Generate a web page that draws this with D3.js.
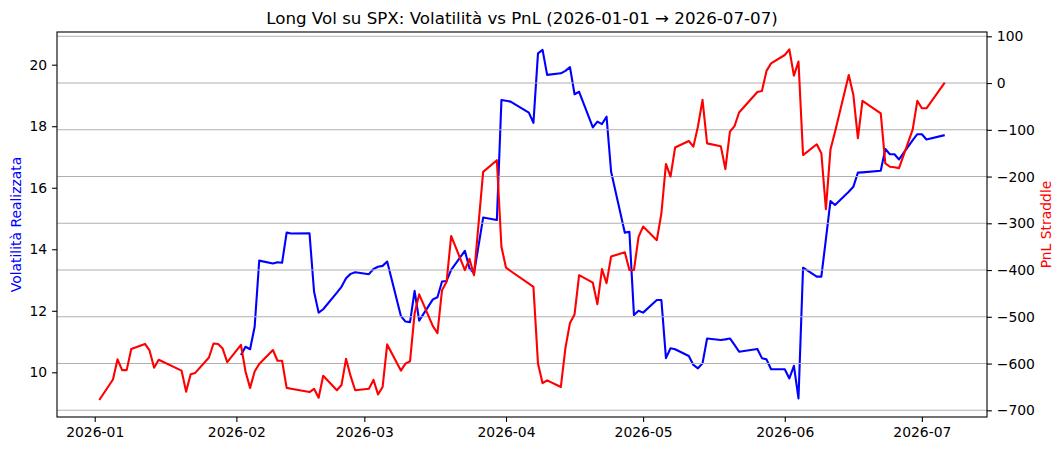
<!DOCTYPE html>
<html>
<head>
<meta charset="utf-8">
<script src="https://cdn.jsdelivr.net/npm/d3@7"></script>
<style>
  body { margin: 0; background: #fff; }
  svg text { font-family: "DejaVu Sans", sans-serif; }
</style>
</head>
<body>
<div id="chart"></div>
<script>
// trading days with a visible vertex in either line
const dates = [
  '2026-01-02', '2026-01-05', '2026-01-06', '2026-01-07', '2026-01-08', '2026-01-09',
  '2026-01-12', '2026-01-13', '2026-01-14', '2026-01-15', '2026-01-20', '2026-01-21',
  '2026-01-22', '2026-01-23', '2026-01-26', '2026-01-27', '2026-01-28', '2026-01-29',
  '2026-01-30', '2026-02-02', '2026-02-03', '2026-02-04', '2026-02-05', '2026-02-06',
  '2026-02-09', '2026-02-10', '2026-02-11', '2026-02-12', '2026-02-13', '2026-02-17',
  '2026-02-18', '2026-02-19', '2026-02-20', '2026-02-23', '2026-02-24', '2026-02-25',
  '2026-02-26', '2026-02-27', '2026-03-02', '2026-03-03', '2026-03-04', '2026-03-05',
  '2026-03-06', '2026-03-09', '2026-03-10', '2026-03-11', '2026-03-12', '2026-03-13',
  '2026-03-16', '2026-03-17', '2026-03-18', '2026-03-19', '2026-03-20', '2026-03-23',
  '2026-03-24', '2026-03-25', '2026-03-27', '2026-03-30', '2026-03-31', '2026-04-01',
  '2026-04-02', '2026-04-06', '2026-04-07', '2026-04-08', '2026-04-09', '2026-04-10',
  '2026-04-13', '2026-04-14', '2026-04-15', '2026-04-16', '2026-04-17', '2026-04-20',
  '2026-04-21', '2026-04-22', '2026-04-23', '2026-04-24', '2026-04-27', '2026-04-28',
  '2026-04-29', '2026-04-30', '2026-05-01', '2026-05-04', '2026-05-05', '2026-05-06',
  '2026-05-07', '2026-05-08', '2026-05-11', '2026-05-12', '2026-05-13', '2026-05-14',
  '2026-05-15', '2026-05-18', '2026-05-19', '2026-05-20', '2026-05-21', '2026-05-22',
  '2026-05-26', '2026-05-27', '2026-05-28', '2026-05-29', '2026-06-01', '2026-06-02',
  '2026-06-03', '2026-06-04', '2026-06-05', '2026-06-08', '2026-06-09', '2026-06-10',
  '2026-06-11', '2026-06-12', '2026-06-15', '2026-06-16', '2026-06-17', '2026-06-18',
  '2026-06-22', '2026-06-23', '2026-06-24', '2026-06-25', '2026-06-26', '2026-06-29',
  '2026-06-30', '2026-07-01', '2026-07-02', '2026-07-06'
];

// PnL straddle (right axis)
const pnl = [
  -678, -634, -591, -614, -614, -569,
  -558, -572, -609, -592, -615, -660,
  -623, -620, -587, -557, -558, -568,
  -597, -560, -617, -652, -617, -601,
  -571, -594, -594, -652, -654, -661,
  -654, -673, -626, -657, -646, -590,
  -627, -657, -654, -635, -666, -650,
  -559, -615, -600, -595, -493, -452,
  -520, -535, -443, -425, -327, -400,
  -376, -411, -190, -165, -350, -395,
  -402, -429, -436, -600, -642, -636,
  -650, -567, -513, -495, -411, -427,
  -473, -398, -428, -371, -362, -400,
  -400, -329, -307, -336, -279, -173,
  -200, -138, -124, -136, -93, -36,
  -129, -135, -184, -104, -92, -63,
  -19, -17, 26, 42, 60, 72,
  16, 46, -154, -131, -150, -270,
  -142, -104, 17, -25, -118, -38,
  -65, -172, -179, -180, -182, -99,
  -38, -54, -54, 1
];

// realised volatility (left axis), empty until the rolling window fills
const vol = [
  null, null, null, null, null, null,
  null, null, null, null, null, null,
  null, null, null, null, null, null,
  null, 10.56, 10.83, 10.75, 11.48, 13.63,
  13.54, 13.58, 13.56, 14.54, 14.51, 14.52,
  12.62, 11.94, 12.05, 12.59, 12.78, 13.06,
  13.20, 13.25, 13.19, 13.36, 13.43, 13.46,
  13.60, 11.83, 11.65, 11.63, 12.65, 11.68,
  12.37, 12.44, 12.95, 12.97, 13.33, 13.95,
  13.38, 13.22, 15.03, 14.95, 18.85, 18.83,
  18.80, 18.44, 18.11, 20.37, 20.48, 19.67,
  19.72, 19.80, 19.92, 19.04, 19.12, 17.96,
  18.15, 18.07, 18.31, 16.52, 14.54, 14.57,
  11.86, 12.00, 11.94, 12.35, 12.35, 10.46,
  10.78, 10.75, 10.53, 10.24, 10.13, 10.29,
  11.10, 11.05, 11.07, 11.10, 10.89, 10.67,
  10.76, 10.46, 10.42, 10.10, 10.10, 9.80,
  10.21, 9.15, 13.40, 13.11, 13.11, 14.33,
  15.57, 15.44, 15.87, 16.03, 16.49, 16.50,
  16.55, 17.26, 17.09, 17.09, 16.92, 17.55,
  17.74, 17.74, 17.57, 17.71
];

const volTicks = [10, 12, 14, 16, 18, 20];
const pnlTicks = [-700, -600, -500, -400, -300, -200, -100, 0, 100];
const volDomain = [8.547, 21.063];
const pnlDomain = [-714.3, 109.2];

const w = 1064;
const h = 451;
const margin = { top: 32, right: 77, bottom: 34, left: 57 };
const x0 = margin.left;
const x1 = w - margin.right;
const y0 = margin.top;
const y1 = h - margin.bottom;

const parse = d3.timeParse('%Y-%m-%d');
const rows = dates.map((d, i) => ({ date: parse(d), pnl: pnl[i], vol: vol[i] }));

// matplotlib-like 5% padding on the date axis
const ext = d3.extent(rows, d => d.date);
const pad = (ext[1] - ext[0]) * 0.05;
const xScale = d3.scaleTime()
  .domain([new Date(+ext[0] - pad), new Date(+ext[1] + pad)])
  .range([x0, x1]);

const yVol = d3.scaleLinear().domain(volDomain).range([y1, y0]);
const yPnl = d3.scaleLinear().domain(pnlDomain).range([y1, y0]);

const svg = d3.select('#chart')
  .append('svg')
  .attr('width', w)
  .attr('height', h);

const minus = v => String(v).replace('-', '\u2212');

// blue line sits on the lower axes, so draw it first
svg.append('path')
  .datum(rows.filter(d => d.vol !== null))
  .attr('fill', 'none')
  .attr('stroke', '#0000ff')
  .attr('stroke-width', 2.1)
  .attr('stroke-linejoin', 'round')
  .attr('d', d3.line().x(d => xScale(d.date)).y(d => yVol(d.vol)));

// horizontal grid from the right axis
svg.append('g')
  .selectAll('line')
  .data(pnlTicks)
  .enter()
  .append('line')
  .attr('x1', x0)
  .attr('x2', x1)
  .attr('y1', d => yPnl(d))
  .attr('y2', d => yPnl(d))
  .attr('stroke', '#b0b0b0')
  .attr('stroke-width', 1.1);

svg.append('path')
  .datum(rows)
  .attr('fill', 'none')
  .attr('stroke', '#ff0000')
  .attr('stroke-width', 2.1)
  .attr('stroke-linejoin', 'round')
  .attr('d', d3.line().x(d => xScale(d.date)).y(d => yPnl(d.pnl)));

// axes
const styleAxis = g => {
  g.select('.domain').remove();
  g.selectAll('.tick line').attr('stroke', '#000').attr('stroke-width', 1.1);
  g.selectAll('.tick text')
    .attr('fill', '#000')
    .style('font-size', '13.9px')
    .style('font-family', '"DejaVu Sans", sans-serif');
};

svg.append('g')
  .attr('transform', `translate(0,${y1})`)
  .call(d3.axisBottom(xScale)
    .ticks(d3.timeMonth.every(1))
    .tickFormat(d3.timeFormat('%Y-%m'))
    .tickSizeOuter(0)
    .tickSize(4.9)
    .tickPadding(5.5))
  .call(styleAxis);

svg.append('g')
  .attr('transform', `translate(${x0},0)`)
  .call(d3.axisLeft(yVol)
    .tickValues(volTicks)
    .tickFormat(d => d)
    .tickSizeOuter(0)
    .tickSize(4.9)
    .tickPadding(4.9))
  .call(styleAxis);

svg.append('g')
  .attr('transform', `translate(${x1},0)`)
  .call(d3.axisRight(yPnl)
    .tickValues(pnlTicks)
    .tickFormat(minus)
    .tickSizeOuter(0)
    .tickSize(4.9)
    .tickPadding(4.9))
  .call(styleAxis);

// frame
svg.append('rect')
  .attr('x', x0)
  .attr('y', y0)
  .attr('width', x1 - x0)
  .attr('height', y1 - y0)
  .attr('fill', 'none')
  .attr('stroke', '#000')
  .attr('stroke-width', 1.1);

svg.append('text')
  .attr('x', (x0 + x1) / 2)
  .attr('y', 23.7)
  .attr('text-anchor', 'middle')
  .style('font-size', '16.7px')
  .text('Long Vol su SPX: Volatilità vs PnL (2026-01-01 \u2192 2026-07-07)');

svg.append('text')
  .attr('transform', `translate(21,${(y0 + y1) / 2}) rotate(-90)`)
  .attr('text-anchor', 'middle')
  .attr('fill', '#0000ff')
  .style('font-size', '13.9px')
  .text('Volatilità Realizzata');

svg.append('text')
  .attr('transform', `translate(1051,${(y0 + y1) / 2}) rotate(-90)`)
  .attr('text-anchor', 'middle')
  .attr('fill', '#ff0000')
  .style('font-size', '13.9px')
  .text('PnL Straddle');
</script>
</body>
</html>
